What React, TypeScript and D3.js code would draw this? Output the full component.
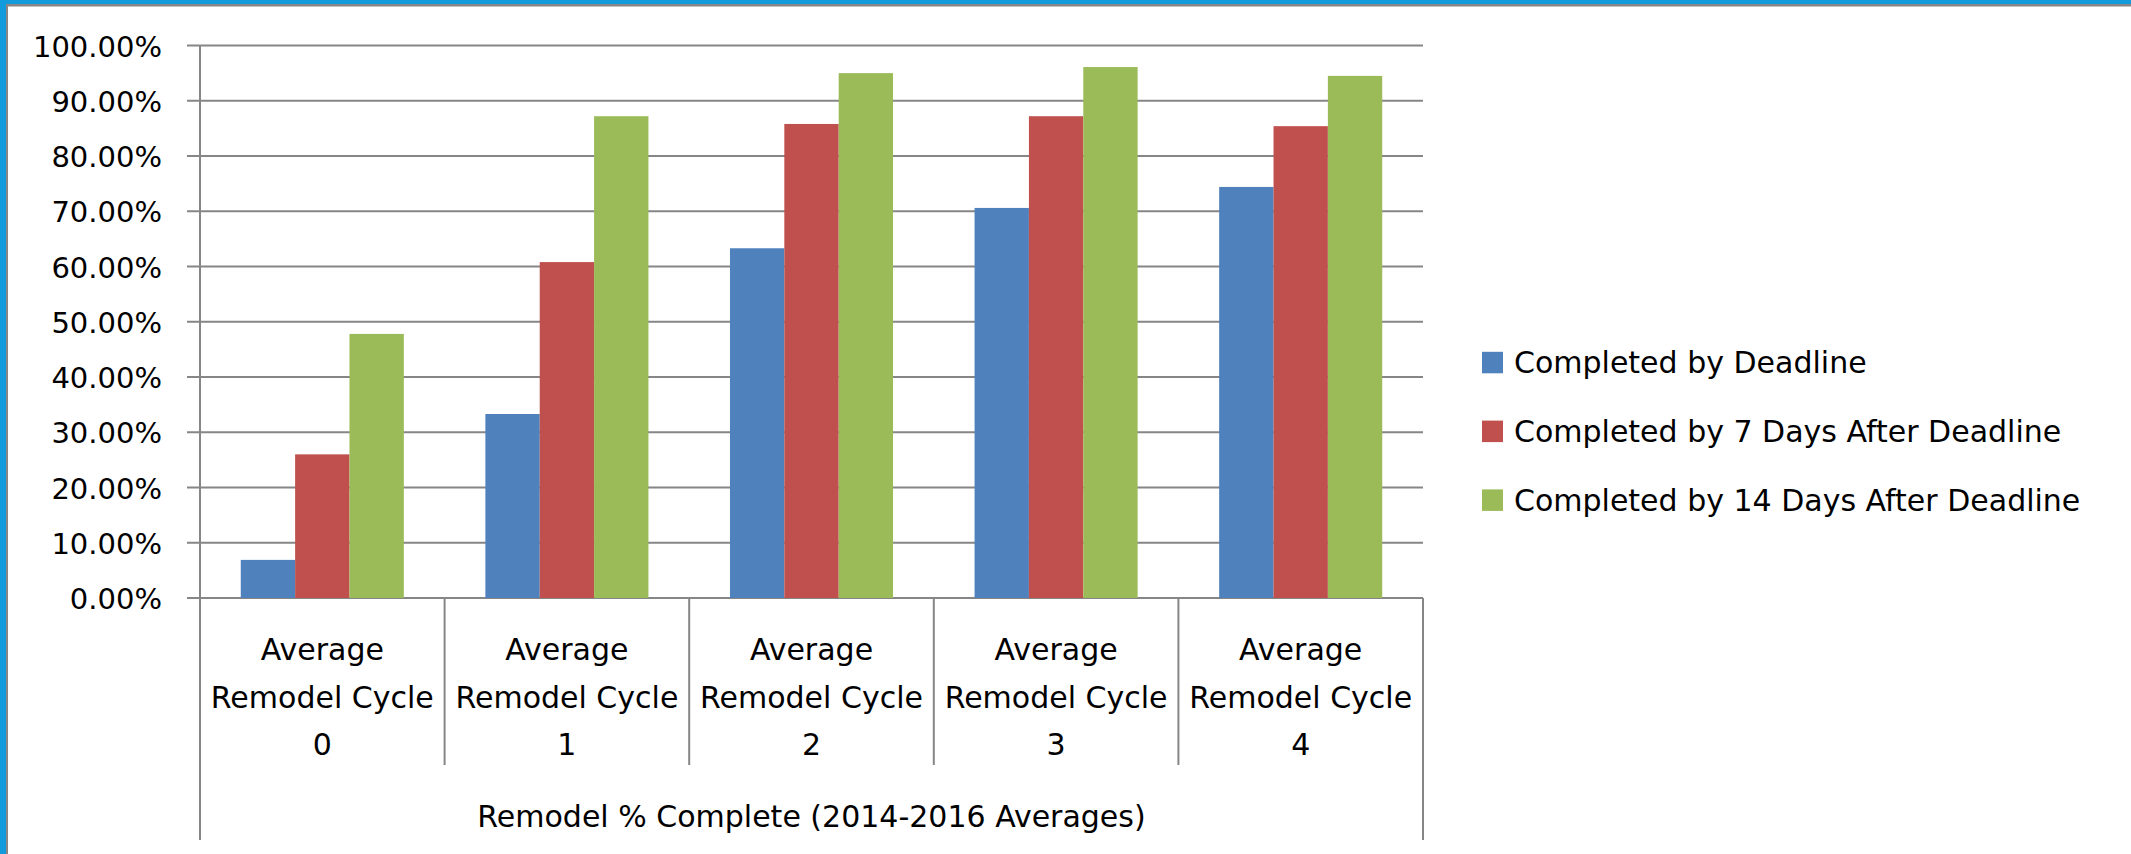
import React from "react";
import * as d3 from "d3";

const categories = [
  "Average Remodel Cycle 0",
  "Average Remodel Cycle 1",
  "Average Remodel Cycle 2",
  "Average Remodel Cycle 3",
  "Average Remodel Cycle 4",
];
const categoryLines = [
  ["Average", "Remodel Cycle", "0"],
  ["Average", "Remodel Cycle", "1"],
  ["Average", "Remodel Cycle", "2"],
  ["Average", "Remodel Cycle", "3"],
  ["Average", "Remodel Cycle", "4"],
];
const seriesNames = [
  "Completed by Deadline",
  "Completed by 7 Days After Deadline",
  "Completed by 14 Days After Deadline",
];
const byDeadline = [0.069, 0.333, 0.633, 0.706, 0.744];
const by7Days = [0.26, 0.608, 0.858, 0.872, 0.854];
const by14Days = [0.478, 0.872, 0.95, 0.961, 0.945];
const seriesValues = [byDeadline, by7Days, by14Days];
const seriesColors = ["#4F81BD", "#C0504D", "#9BBB59"];
const yTicks = [0, 0.1, 0.2, 0.3, 0.4, 0.5, 0.6, 0.7, 0.8, 0.9, 1.0];
const axisTitle = "Remodel % Complete (2014-2016 Averages)";

const W = 2131;
const H = 854;
const FONT = "'DejaVu Sans', Verdana, sans-serif";
const GRID = "#868686";

export default function App() {
  const left = 200;
  const right = 1423;
  const top = 45.5;
  const bottom = 598;

  const x0 = d3.scaleBand<string>().domain(categories).range([left, right]).padding(0);
  const x1 = d3
    .scaleBand<string>()
    .domain(seriesNames)
    .range([0, x0.bandwidth()])
    .paddingInner(0)
    .paddingOuter(0.75);
  const y = d3.scaleLinear().domain([0, 1]).range([bottom, top]);
  const fmt = d3.format(".2%");

  return (
    <svg
      width={W}
      height={H}
      style={{ position: "absolute", left: 0, top: 0, background: "#fff" }}
      fontFamily={FONT}
    >
      <rect x={0} y={0} width={W} height={H} fill="#fff" />
      {/* frame */}
      <rect x={0} y={0} width={W} height={4} fill="#119bdc" />
      <rect x={0} y={0} width={6} height={H} fill="#119bdc" />
      <rect x={6} y={4} width={W - 6} height={2.5} fill={GRID} />
      <rect x={6} y={4} width={2} height={H - 4} fill={GRID} />

      {/* gridlines with tick marks */}
      {yTicks.map((t) => (
        <line
          key={"g" + t}
          x1={187}
          x2={right}
          y1={y(t)}
          y2={y(t)}
          stroke={GRID}
          strokeWidth={2}
        />
      ))}
      {/* y tick labels */}
      {yTicks.map((t) => (
        <text
          key={"l" + t}
          x={162}
          y={y(t) + 11}
          textAnchor="end"
          fontSize={29}
          fill="#000"
        >
          {fmt(t)}
        </text>
      ))}

      {/* bars */}
      {categories.map((c, ci) =>
        seriesNames.map((s, si) => (
          <rect
            key={c + s}
            x={(x0(c) as number) + (x1(s) as number)}
            y={y(seriesValues[si][ci])}
            width={x1.bandwidth()}
            height={y(0) - y(seriesValues[si][ci])}
            fill={seriesColors[si]}
          />
        ))
      )}

      {/* value axis line */}
      <line x1={left} x2={left} y1={top} y2={840} stroke={GRID} strokeWidth={2} />
      <line x1={right} x2={right} y1={bottom} y2={840} stroke={GRID} strokeWidth={2} />
      {/* category separators */}
      {categories.slice(1).map((c) => (
        <line
          key={"s" + c}
          x1={x0(c) as number}
          x2={x0(c) as number}
          y1={bottom}
          y2={765}
          stroke={GRID}
          strokeWidth={2}
        />
      ))}

      {/* category labels */}
      {categories.map((c, ci) => (
        <text
          key={"c" + c}
          textAnchor="middle"
          fontSize={30}
          fill="#000"
        >
          {categoryLines[ci].map((ln, li) => (
            <tspan key={li} x={(x0(c) as number) + x0.bandwidth() / 2} y={660 + li * 47.5}>
              {ln}
            </tspan>
          ))}
        </text>
      ))}

      {/* axis title */}
      <text x={(left + right) / 2} y={826.5} textAnchor="middle" fontSize={30} fill="#000">
        {axisTitle}
      </text>

      {/* legend */}
      {seriesNames.map((s, si) => (
        <g key={"lg" + s} transform={`translate(1482, ${373.3 + si * 68.8})`}>
          <rect x={0} y={-21.5} width={21} height={21.5} fill={seriesColors[si]} />
          <text x={32} y={0} fontSize={30} fill="#000">
            {s}
          </text>
        </g>
      ))}
    </svg>
  );
}
